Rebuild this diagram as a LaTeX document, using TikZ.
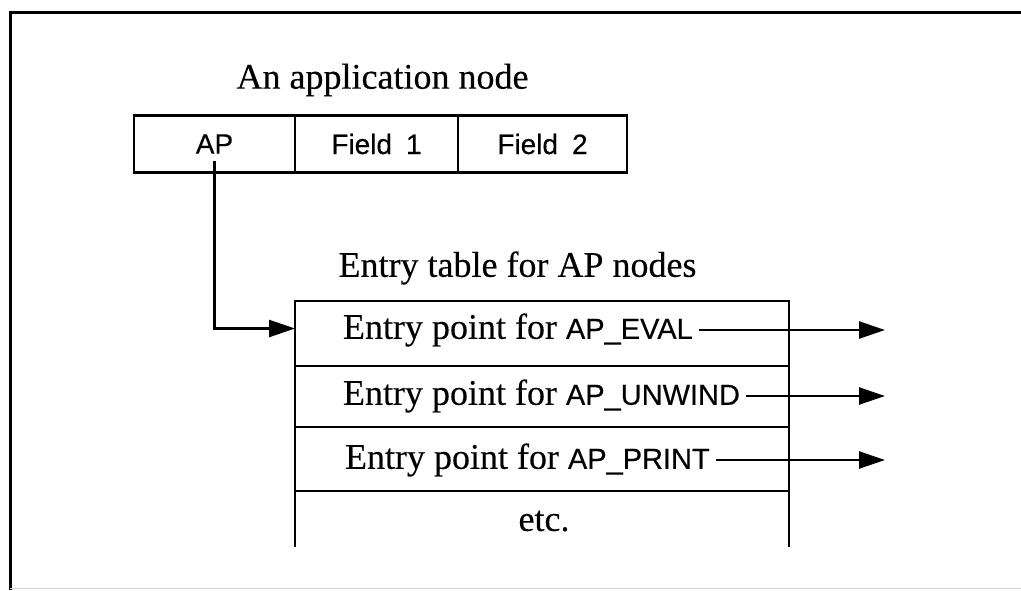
\documentclass[tikz,border=0pt]{standalone}
\usepackage{fontspec}
\setmainfont{Liberation Serif}[FakeBold=0.3]
\setsansfont{Liberation Sans}[FakeBold=0.3]
\usetikzlibrary{arrows.meta,positioning}
\newcommand{\apname}[1]{{\fontsize{29}{32}\sffamily #1}}

\begin{document}
\begin{tikzpicture}[x=1pt, y=-1pt,
        every node/.style={outer sep=0pt},
        fieldbox/.style={draw, line width=2.5pt, minimum height=57pt, font=\fontsize{28}{32}\sffamily},
        rowbox/.style={draw, line width=2.5pt, minimum width=494pt},
        caption/.style={font=\fontsize{36}{40}\selectfont},
        entry/.style={anchor=west, inner sep=6pt, font=\fontsize{36}{40}\selectfont},
        link/.style={line width=2.5pt, -{Triangle[length=26pt, width=17pt]}}]
    \useasboundingbox (0,0) rectangle (1021,590);
    % frame
    \draw[line width=3pt] (1021,12) -- (10,12) -- (10,590);
    \draw[gray!35, line width=1pt] (10,588) -- (1021,588);

    % the application node
    \node[caption] (nodetitle) at (382.5,80) {An application node};
    \node[fieldbox, minimum width=161pt] (ap) at (214.5,144) {AP};
    \node[fieldbox, minimum width=163pt, right=0pt of ap] (field1) {Field\enspace 1};
    \node[fieldbox, minimum width=169pt, right=0pt of field1] (field2) {Field\enspace 2};

    % the entry table
    \node[caption] (tabletitle) at (517.5,268) {Entry table for AP nodes};
    \node[rowbox, minimum height=65pt] (row1) at (542,333.5) {};
    \node[rowbox, minimum height=61pt, below=0pt of row1] (row2) {};
    \node[rowbox, minimum height=64pt, below=0pt of row2] (row3) {};
    \draw[line width=2.5pt] (row3.south west) -- ++(0,56);
    \draw[line width=2.5pt] (row3.south east) -- ++(0,56);
    \node[caption] (etc) at (544,521) {etc.};

    \node[entry] (eval) at (337,330) {Entry point for \apname{AP\_EVAL}};
    \node[entry] (unwind) at (337,396) {Entry point for \apname{AP\_UNWIND}};
    \node[entry] (print) at (339,460) {Entry point for \apname{AP\_PRINT}};

    \coordinate (evalout) at (885,330);
    \coordinate (unwindout) at (885,396);
    \coordinate (printout) at (885,460);

    % connectors
    \draw[link, shorten <=17pt] (ap.center) |- ([yshift=5pt]row1.west);
    \draw[link] (eval.east) -- (evalout);
    \draw[link] (unwind.east) -- (unwindout);
    \draw[link] (print.east) -- (printout);
\end{tikzpicture}
\end{document}
